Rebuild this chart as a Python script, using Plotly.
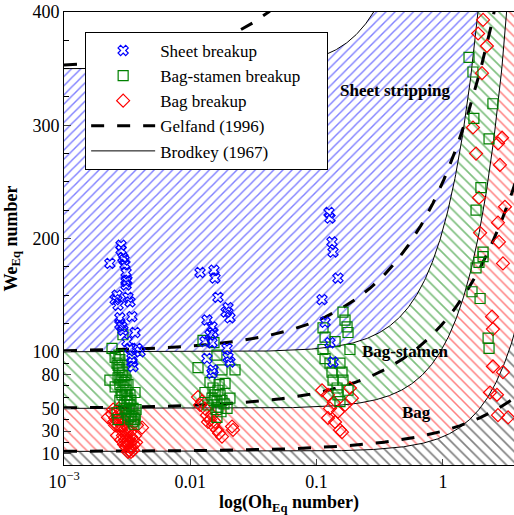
import numpy as np
import plotly.graph_objects as go

# ---------------- data ----------------
sheet_oh = [0.00293, 0.00304, 0.00310, 0.00315, 0.00231, 0.00283, 0.00283, 0.00299, 0.00263, 0.00321,
            0.00268, 0.00254, 0.00333, 0.00345, 0.00277, 0.00288, 0.00365, 0.00315, 0.00333, 0.00400,
            0.00345, 0.00352, 0.00293, 0.00277, 0.00310, 0.00310, 0.00345, 0.00378,
            0.01194, 0.0154, 0.0157, 0.01656, 0.01988, 0.0206, 0.01355, 0.01486, 0.01514, 0.01306,
            0.01486, 0.01954, 0.01988, 0.0206, 0.01355, 0.01514, 0.01486, 0.0192, 0.01432,
            0.1254, 0.1277, 0.1324, 0.1349, 0.1476, 0.1104, 0.1167, 0.1277, 0.1349]
sheet_we = [183, 177, 170, 163, 178, 194, 190, 181, 150, 148,
            141, 146, 144, 131, 130, 122, 117, 109, 103, 100,
            91, 87, 119, 124, 162, 159, 94, 103,
            170, 172, 165, 148, 139, 130, 128, 122, 117, 109,
            108, 103, 95, 91, 94, 84, 81, 135, 115,
            223, 218, 197, 188, 165, 146, 126, 108, 91]

stamen_oh = [0.00293, 0.0024, 0.00254, 0.00263, 0.00231, 0.00254, 0.00365, 0.00277, 0.00263, 0.00268,
             0.00365, 0.00268, 0.00277, 0.00288, 0.00283, 0.00299, 0.00293, 0.0031, 0.00304, 0.00321,
             0.00315, 0.00333, 0.00327, 0.00345, 0.00339, 0.00358, 0.00352, 0.00277, 0.00268, 0.00288,
             0.00299, 0.0031, 0.00321, 0.00372, 0.00333, 0.00321, 0.00304, 0.00277, 0.00272, 0.00288,
             0.00272, 0.00293, 0.0031, 0.00283, 0.00315, 0.00339, 0.00304, 0.00352, 0.00327, 0.00365,
             0.00339, 0.00358,
             0.01261, 0.0154, 0.01626, 0.01151, 0.01782, 0.0226, 0.01432, 0.01884, 0.01306, 0.0157,
             0.0206, 0.0138, 0.01656, 0.01954, 0.01626, 0.01514, 0.01656, 0.0172, 0.0154, 0.01782,
             0.01626, 0.0185, 0.01486, 0.0160, 0.0175, 0.0169,
             0.1618, 0.1679, 0.1742, 0.1774, 0.1124, 0.1167, 0.140, 0.1837, 0.1124, 0.1167,
             0.1277, 0.1531, 0.1324, 0.1589, 0.1349, 0.1618, 0.1452, 0.1774, 0.1476, 0.1531,
             1.61, 1.73, 2.49, 1.76, 2.32, 2.00, 1.83, 2.08, 2.08, 1.93, 1.83, 1.70, 1.97, 2.28, 2.32]
stamen_we = [115, 103, 95, 90, 75, 69, 64, 57, 46, 40,
             40, 88, 84, 79, 75, 73, 69, 66, 62, 59,
             56, 53, 49, 47, 43, 41.5, 38, 71, 77, 62,
             53, 47, 41.5, 49, 62, 71, 79, 93, 97, 88,
             86, 82, 75, 64, 62, 57, 50, 50, 44, 44,
             40, 36,
             110, 108, 97, 86, 84, 84, 73, 72, 64, 62,
             59, 53, 51, 50, 42, 68, 66, 62, 57, 57,
             56, 54, 59, 49, 47, 71,
             135, 128, 122, 117, 121, 113, 109, 102, 102, 94,
             90, 90, 82, 82, 75, 75, 68, 66, 62, 56,
             360, 347, 319, 306, 288, 245, 225, 188, 184, 179, 174, 153, 147, 112, 103]

bag_oh = [0.00223, 0.00254, 0.00263, 0.00315, 0.00333, 0.00378, 0.00415, 0.00245, 0.00259, 0.00268,
          0.00254, 0.00277, 0.00268, 0.00288, 0.00283, 0.00299, 0.00293, 0.0031, 0.00304, 0.00321,
          0.00315, 0.00333, 0.00327, 0.00345, 0.00339, 0.00358, 0.0031, 0.00352, 0.00333, 0.00321,
          0.00365, 0.00299, 0.0024, 0.00272,
          0.00263, 0.00283, 0.00299, 0.00321, 0.00352, 0.00372, 0.00339, 0.00315, 0.00288, 0.00249,
          0.01151, 0.01238, 0.01306, 0.01355, 0.01432, 0.01514, 0.01626, 0.01782, 0.0214, 0.0218,
          0.01194, 0.01486, 0.0138, 0.0157, 0.0169,
          0.1104, 0.1231, 0.1837, 0.1905, 0.1277, 0.1476, 0.1231, 0.140, 0.1531, 0.1589, 0.137, 0.168,
          2.08, 1.90, 2.23, 2.04, 1.73, 2.94, 2.73, 1.83, 2.83, 1.93, 3.10, 2.73, 1.97, 2.78,
          2.99, 2.45, 2.49, 2.49, 2.99, 2.36, 2.68, 2.73, 3.28]
bag_we = [42, 35, 26, 20, 16, 35, 33, 49, 47, 44,
          41.5, 40, 35, 35, 31, 31, 26, 26, 22, 22,
          18, 20, 13, 16, 11.5, 18, 16, 22, 29, 33,
          26, 40, 45, 50,
          40, 22, 18, 11.5, 13, 20, 25, 29, 41.5, 38,
          60, 56, 50, 44, 40, 35, 31, 25, 34, 31,
          53, 44, 38, 38, 28,
          66, 62, 68, 59, 50, 47, 41.5, 38, 31, 29, 55, 53,
          393, 381, 370, 346, 298, 289, 284, 275, 265, 236, 228, 214, 205, 197,
          178, 131, 120, 87, 82, 64, 62, 44, 42]

# regime boundaries: We_c = We0 * (1 + a * Oh^b)
we0_levels = [12, 50, 100, 350]
brodkey_a, brodkey_b = 1.077, 1.6
gelfand_a, gelfand_b = 1.5, 0.74

x_ticks = [0.001, 0.01, 0.1, 1]
x_ticktext = ["10<sup>\u22123</sup>", "0.01", "0.1", "1"]
y_ticks = [10, 30, 50, 80, 100, 200, 300, 400]
y_minor = [20, 40, 60, 70, 90, 125, 150, 175, 225, 250, 275, 325, 350, 375]

FONT = "Liberation Serif, Times New Roman, serif"
oh = np.logspace(-3, 0.6, 600)

fig = go.Figure()

# hatched regimes (between Brodkey curves)
hatch = [("\\", "black", 7.5), ("\\", "red", 7), ("\\", "green", 7.5), ("/", "blue", 6.5)]
for i, (we0, (shape, col, sz)) in enumerate(zip(we0_levels, hatch)):
    fig.add_trace(go.Scatter(
        x=oh, y=we0 * (1 + brodkey_a * oh ** brodkey_b), mode="lines",
        line=dict(width=0, color="black"),
        fill="tozeroy" if i == 0 else "tonexty", fillcolor="white",
        fillpattern=dict(shape=shape, fgcolor=col, bgcolor="white", size=sz, solidity=0.22),
        showlegend=False, hoverinfo="skip"))

# Brodkey solid lines
for i, we0 in enumerate(we0_levels):
    fig.add_trace(go.Scatter(
        x=oh, y=we0 * (1 + brodkey_a * oh ** brodkey_b), mode="lines",
        line=dict(width=1, color="black"), name="Brodkey (1967)",
        legendgroup="brod", showlegend=(i == 0), legendrank=5))

# Gelfand dashed lines
for i, we0 in enumerate(we0_levels):
    fig.add_trace(go.Scatter(
        x=oh, y=we0 * (1 + gelfand_a * oh ** gelfand_b), mode="lines",
        line=dict(width=3, color="black", dash="13px,13px"), name="Gelfand (1996)",
        legendgroup="gel", showlegend=(i == 0), legendrank=4))

fig.add_trace(go.Scatter(x=bag_oh, y=bag_we, mode="markers", name="Bag breakup", legendrank=3,
                         marker=dict(symbol="diamond-open", size=10, color="red", line=dict(width=1.2))))
fig.add_trace(go.Scatter(x=stamen_oh, y=stamen_we, mode="markers",
                         name="Bag-stamen breakup" + "\u00a0" * 5 + "\u200b", legendrank=2,
                         marker=dict(symbol="square-open", size=10, color="green", line=dict(width=1.2))))
fig.add_trace(go.Scatter(x=sheet_oh, y=sheet_we, mode="markers", name="Sheet breakup", legendrank=1,
                         marker=dict(symbol="x-open", size=9, color="blue", line=dict(width=1.2))))

for txt, xv, yv in [("Sheet stripping", 0.42, 331), ("Bag-stamen", 0.50, 100), ("Bag", 0.62, 46)]:
    fig.add_annotation(x=np.log10(xv), y=yv, text="<b>%s</b>" % txt, showarrow=False,
                       font=dict(family=FONT, size=17, color="black"))

tickfont = dict(family=FONT, size=18, color="black")
fig.update_layout(
    width=514, height=515, margin=dict(l=64, r=0, t=12, b=50),
    plot_bgcolor="white", paper_bgcolor="white",
    font=dict(family=FONT, size=18, color="black"),
    legend=dict(x=0.047, y=0.956, xanchor="left", yanchor="top", bgcolor="white",
                bordercolor="black", borderwidth=1,
                font=dict(family=FONT, size=17, color="black"),
                itemwidth=64, tracegroupgap=0),
    xaxis=dict(type="log", range=[-3, 0.563], tickvals=x_ticks, ticktext=x_ticktext,
               tickfont=tickfont,
               ticks="inside", ticklen=6, showline=True, linecolor="black", linewidth=1,
               mirror=True, showgrid=False, zeroline=False,
               title=dict(text="<b>log(Oh<sub>Eq</sub> number)</b>", font=dict(family=FONT, size=18),
                          standoff=8)),
    yaxis=dict(range=[0, 400], tickvals=y_ticks, ticks="inside", ticklen=7, tickfont=tickfont,
               minor=dict(tickvals=y_minor, ticks="inside", ticklen=5, tickcolor="black"),
               showline=True, linecolor="black", linewidth=1, mirror=True, showgrid=False,
               zeroline=False,
               title=dict(text="<b>We<sub>Eq</sub> number</b>", font=dict(family=FONT, size=18),
                          standoff=10)),
)

fig.write_html("out.html")
